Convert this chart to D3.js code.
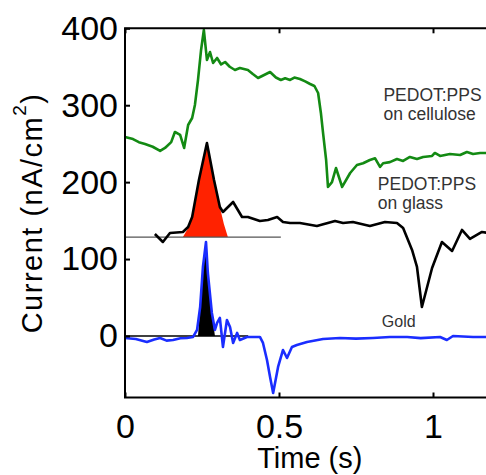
<!DOCTYPE html>
<html>
<head>
<meta charset="utf-8">
<script src="https://cdn.jsdelivr.net/npm/d3@7"></script>
<style>
  html, body { margin: 0; padding: 0; background: #fff; }
  svg { display: block; }
  text { font-family: "Liberation Sans", Arial, sans-serif; }
</style>
</head>
<body>
<svg id="chart" width="486" height="475"></svg>
<script>
// Time axis (s) and current-density axis (nA/cm^2)
const xTicks = [0, 0.5, 1];
const xTickLabels = ["0", "0.5", "1"];
const yTicks = [0, 100, 200, 300, 400];
const yTickLabels = ["0", "100", "200", "300", "400"];

// PEDOT:PPS on cellulose: [time, current]
const cellulose = [
  [0.000, 258.7], [0.026, 256.0], [0.045, 252.0], [0.065, 249.6], [0.090, 246.0],
  [0.114, 240.5], [0.130, 244.4], [0.150, 252.0], [0.162, 265.2], [0.179, 261.3],
  [0.192, 244.4], [0.205, 274.3], [0.218, 283.4], [0.227, 300.3], [0.237, 332.8],
  [0.247, 371.8], [0.256, 397.8], [0.266, 358.8], [0.276, 369.2], [0.286, 354.9],
  [0.299, 361.4], [0.312, 353.0], [0.325, 356.2], [0.340, 350.0], [0.357, 345.8],
  [0.373, 348.4], [0.399, 345.8], [0.415, 340.5], [0.432, 335.4], [0.450, 339.0],
  [0.471, 343.2], [0.490, 336.0], [0.506, 332.8], [0.520, 335.0], [0.536, 332.8],
  [0.550, 336.0], [0.568, 334.1], [0.585, 331.0], [0.601, 327.6], [0.615, 325.0],
  [0.627, 315.9], [0.636, 289.9], [0.643, 263.9], [0.653, 228.8], [0.659, 193.7],
  [0.672, 200.0], [0.685, 218.4], [0.705, 193.7], [0.731, 211.9], [0.753, 222.3],
  [0.773, 224.6], [0.795, 228.8], [0.812, 231.0], [0.828, 219.7], [0.838, 224.6],
  [0.860, 226.0], [0.883, 230.0], [0.903, 227.5], [0.925, 232.7], [0.948, 230.0],
  [0.968, 232.7], [0.997, 234.0], [1.006, 237.9], [1.023, 234.0], [1.055, 236.6],
  [1.088, 235.3], [1.110, 239.2], [1.130, 236.6], [1.153, 237.9], [1.200, 237.9]
];

// PEDOT:PPS on glass
const glass = [
  [0.097, 132.6], [0.123, 122.2], [0.146, 133.9], [0.188, 135.2], [0.205, 141.7],
  [0.218, 154.7], [0.240, 202.8], [0.266, 250.9], [0.289, 202.8], [0.308, 167.7],
  [0.318, 161.2], [0.351, 174.2], [0.380, 154.7], [0.399, 154.7], [0.438, 149.5],
  [0.464, 150.8], [0.494, 154.7], [0.513, 148.2], [0.536, 146.9], [0.568, 146.9],
  [0.623, 143.0], [0.682, 149.5], [0.708, 146.9], [0.740, 148.2], [0.795, 143.0],
  [0.844, 148.2], [0.883, 146.9], [0.903, 140.4], [0.932, 111.8], [0.948, 89.7],
  [0.964, 37.7], [0.997, 88.4], [1.029, 122.2], [1.062, 110.5], [1.094, 137.8],
  [1.120, 126.1], [1.159, 135.2], [1.200, 132.6]
];

// Gold
const gold = [
  [0.000, -2.6], [0.035, -4.0], [0.071, -7.8], [0.095, -4.5], [0.114, -2.6],
  [0.135, -6.0], [0.156, -5.2], [0.180, -3.0], [0.201, -2.6], [0.221, -1.3],
  [0.234, 7.8], [0.244, 37.7], [0.253, 89.7], [0.263, 122.2], [0.269, 81.9],
  [0.282, 29.9], [0.292, 7.8], [0.299, 16.9], [0.308, 23.4], [0.318, -14.3],
  [0.331, 20.8], [0.341, 11.7], [0.351, -9.1], [0.364, 3.9], [0.373, -5.2],
  [0.396, -1.3], [0.438, -1.3], [0.448, -9.1], [0.461, -31.2], [0.471, -53.3],
  [0.481, -74.1], [0.497, -40.3], [0.513, -18.2], [0.526, -28.6], [0.542, -14.3],
  [0.558, -11.7], [0.591, -7.8], [0.643, -3.9], [0.698, -2.6], [0.750, -3.5],
  [0.805, -2.6], [0.860, -1.3], [0.916, -1.3], [0.960, -2.8], [1.023, -1.3],
  [1.045, -5.2], [1.065, 0.0], [1.130, -1.3], [1.200, -1.3]
];

// Integrated release peaks and their baselines
const glassBaseline = 128.6;
const glassBaselineEnd = 0.506;
const glassPeak = [
  [0.188, 128.6], [0.205, 140.4], [0.218, 154.7], [0.240, 202.8], [0.266, 250.9],
  [0.289, 205.4], [0.308, 167.7], [0.321, 145.6], [0.334, 128.6]
];
const goldBaseline = 0;
const goldBaselineEnd = 0.40;
const goldPeak = [
  [0.237, 0], [0.244, 37.7], [0.253, 89.7], [0.263, 122.2], [0.269, 81.9],
  [0.282, 29.9], [0.292, 0]
];

const labels = [
  { lines: ["PEDOT:PPS", "on cellulose"], t: 0.839, v: 305, size: 17.5 },
  { lines: ["PEDOT:PPS", "on glass"], t: 0.821, v: 190, size: 17.5 },
  { lines: ["Gold"], t: 0.834, v: 12, size: 16 }
];

const svg = d3.select("#chart");
const plotLeft = 125, plotRight = 494.6, plotTop = 28.3, plotBottom = 397.5;

const x = d3.scaleLinear().domain([0, 1.2]).range([plotLeft, plotRight]);
const y = d3.scaleLinear().domain([-80, 400]).range([plotBottom, plotTop]);

const line = d3.line().x(d => x(d[0])).y(d => y(d[1]));

// peak fills
svg.append("path")
  .datum(glassPeak)
  .attr("d", d3.area().x(d => x(d[0])).y0(y(glassBaseline)).y1(d => y(d[1])))
  .attr("fill", "#ff2200");
svg.append("path")
  .datum(goldPeak)
  .attr("d", d3.area().x(d => x(d[0])).y0(y(goldBaseline)).y1(d => y(d[1])))
  .attr("fill", "#000");

// baselines
svg.append("line")
  .attr("x1", x(0)).attr("x2", x(glassBaselineEnd))
  .attr("y1", y(glassBaseline)).attr("y2", y(glassBaseline))
  .attr("stroke", "#555").attr("stroke-width", 1.3);
svg.append("line")
  .attr("x1", x(0)).attr("x2", x(goldBaselineEnd))
  .attr("y1", y(goldBaseline)).attr("y2", y(goldBaseline))
  .attr("stroke", "#000").attr("stroke-width", 1.5);

// traces
const traces = [
  { data: cellulose, color: "#138a13" },
  { data: glass, color: "#000" },
  { data: gold, color: "#1a2dff" }
];
traces.forEach(s => {
  svg.append("path")
    .datum(s.data)
    .attr("d", line)
    .attr("fill", "none")
    .attr("stroke", s.color)
    .attr("stroke-width", 2.6)
    .attr("stroke-linejoin", "round");
});

// frame
svg.append("path")
  .attr("d", `M${plotRight},${plotTop}H${plotLeft}V${plotBottom}H${plotRight}`)
  .attr("fill", "none").attr("stroke", "#000").attr("stroke-width", 2);

// axes
const yAxis = d3.axisLeft(y).tickValues(yTicks)
  .tickFormat((d, i) => yTickLabels[i]).tickSizeInner(-5).tickSizeOuter(0).tickPadding(7);
const gy = svg.append("g").attr("transform", `translate(${plotLeft},0)`).call(yAxis);

const xAxis = d3.axisBottom(x).tickValues(xTicks)
  .tickFormat((d, i) => xTickLabels[i]).tickSizeInner(-5).tickSizeOuter(0).tickPadding(16);
const gx = svg.append("g").attr("transform", `translate(0,${plotBottom})`).call(xAxis);

const xAxisTop = d3.axisTop(x).tickValues(xTicks).tickFormat("").tickSizeInner(-5).tickSizeOuter(0);
const gxt = svg.append("g").attr("transform", `translate(0,${plotTop})`).call(xAxisTop);

[gx, gy, gxt].forEach(g => {
  g.select(".domain").remove();
  g.selectAll(".tick line").attr("stroke", "#000").attr("stroke-width", 2);
  g.selectAll(".tick text").attr("fill", "#000")
    .style("font-size", "34px").style("font-family", "'Liberation Sans', Arial, sans-serif");
});

// axis titles
svg.append("text")
  .attr("x", (plotLeft + plotRight) / 2).attr("y", 468)
  .attr("text-anchor", "middle")
  .style("font-size", "29px").attr("fill", "#000")
  .text("Time (s)");

const yl = svg.append("text")
  .attr("transform", `translate(42,${(plotTop + plotBottom) / 2}) rotate(-90)`)
  .attr("text-anchor", "middle")
  .style("font-size", "29px").style("letter-spacing", "1.5px").attr("fill", "#000");
yl.append("tspan").text("Current (nA/cm");
yl.append("tspan").attr("dy", -16).style("font-size", "19px").text("2");
yl.append("tspan").attr("dy", 16).text(")");

// trace labels
labels.forEach(l => {
  const t = svg.append("text")
    .attr("x", x(l.t)).attr("y", y(l.v))
    .style("font-size", l.size + "px").attr("fill", "#333");
  l.lines.forEach((s, i) => {
    t.append("tspan").attr("x", x(l.t)).attr("dy", i === 0 ? 0 : 19).text(s);
  });
});
</script>
</body>
</html>
